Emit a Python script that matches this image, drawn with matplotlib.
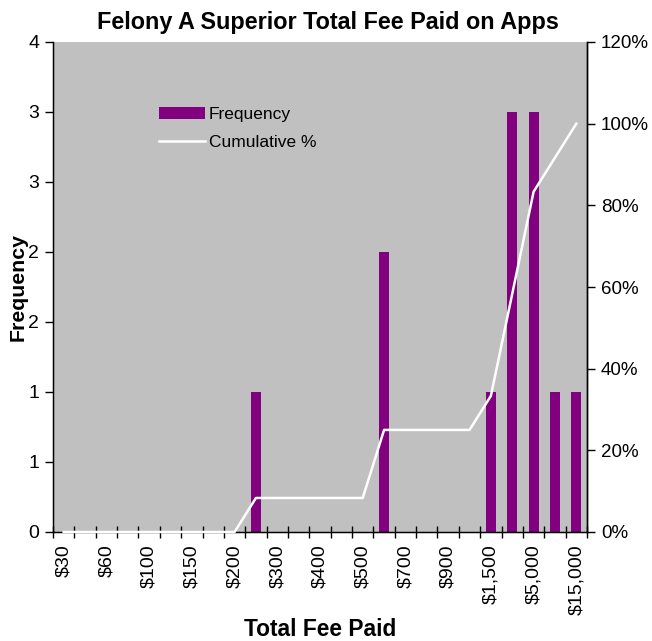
import matplotlib
matplotlib.use("Agg")
import matplotlib.pyplot as plt
import numpy as np

plt.rcParams['font.family'] = ['Liberation Sans', 'DejaVu Sans']

# bins (only every other one is labelled in the original)
bins = ["$30", "$50", "$60", "$75", "$100", "$125", "$150", "$175", "$200", "$250",
        "$300", "$350", "$400", "$450", "$500", "$600", "$700", "$800", "$900", "$1,000",
        "$1,500", "$2,500", "$5,000", "$10,000", "$15,000"]
frequency = [0, 0, 0, 0, 0, 0, 0, 0, 0, 1,
             0, 0, 0, 0, 0, 2, 0, 0, 0, 0,
             1, 3, 3, 1, 1]
cumulative = [0, 0, 0, 0, 0, 0, 0, 0, 0, 8.33,
              8.33, 8.33, 8.33, 8.33, 8.33, 25.0, 25.0, 25.0, 25.0, 25.0,
              33.33, 58.33, 83.33, 91.67, 100.0]
freq_ticks = [0, 0.5, 1, 1.5, 2, 2.5, 3, 3.5]
freq_labels = ["0", "1", "1", "2", "2", "3", "3", "4"]
pct_ticks = [0, 20, 40, 60, 80, 100, 120]
pct_labels = ["0%", "20%", "40%", "60%", "80%", "100%", "120%"]

fig = plt.figure(figsize=(6.52, 6.41), dpi=100)
ax = fig.add_axes([53/652, 1-532/641, (587-53)/652, (532-42)/641])
ax.set_facecolor("#C0C0C0")
x = np.arange(len(bins))
bars = ax.bar(x, frequency, width=0.47, color="#800080", zorder=2)
ax.set_xlim(-0.5, len(bins)-0.5)
ax.set_ylim(0, 3.5)
ax.set_yticks(freq_ticks)
ax.set_yticklabels(freq_labels, fontsize=14)
ax.set_xticks(x[::2])
ax.set_xticklabels(bins[::2], rotation=90, fontsize=14)
ax.set_xticks(np.arange(len(bins)+1)-0.5, minor=True)
ax.tick_params(axis='x', which='major', length=0, pad=9)
ax.tick_params(axis='x', which='minor', direction='inout', length=9, width=1)
ax.tick_params(axis='y', direction='out', length=6, width=1, pad=4)
ax.spines['top'].set_visible(False)
for s in ['left', 'bottom', 'right']:
    ax.spines[s].set_linewidth(1)

ax2 = ax.twinx()
line, = ax2.plot(x, cumulative, color="white", lw=1.8, clip_on=False, zorder=3)
ax2.set_ylim(0, 120)
ax2.set_yticks(pct_ticks)
ax2.set_yticklabels(pct_labels, fontsize=13.5)
ax2.tick_params(axis='y', direction='out', length=6, width=1, pad=4)
ax2.spines['top'].set_visible(False)
ax2.spines['right'].set_linewidth(1)

ax.set_title("Felony A Superior Total Fee Paid on Apps", fontsize=16.8, fontweight='bold',
             x=0.515, pad=9)
ax.set_xlabel("Total Fee Paid", fontsize=16.4, fontweight='bold')
ax.xaxis.set_label_coords(0.5, -0.176)
ax.set_ylabel("Frequency", fontsize=15.3, fontweight='bold', labelpad=0)

leg = ax.legend([bars, line], ["Frequency", "Cumulative %"], loc='upper left',
                bbox_to_anchor=(0.17, 0.899), frameon=False, fontsize=12.5,
                handlelength=2.65, handletextpad=0.2, labelspacing=0.75)

fig.savefig("out.png", dpi=100)
